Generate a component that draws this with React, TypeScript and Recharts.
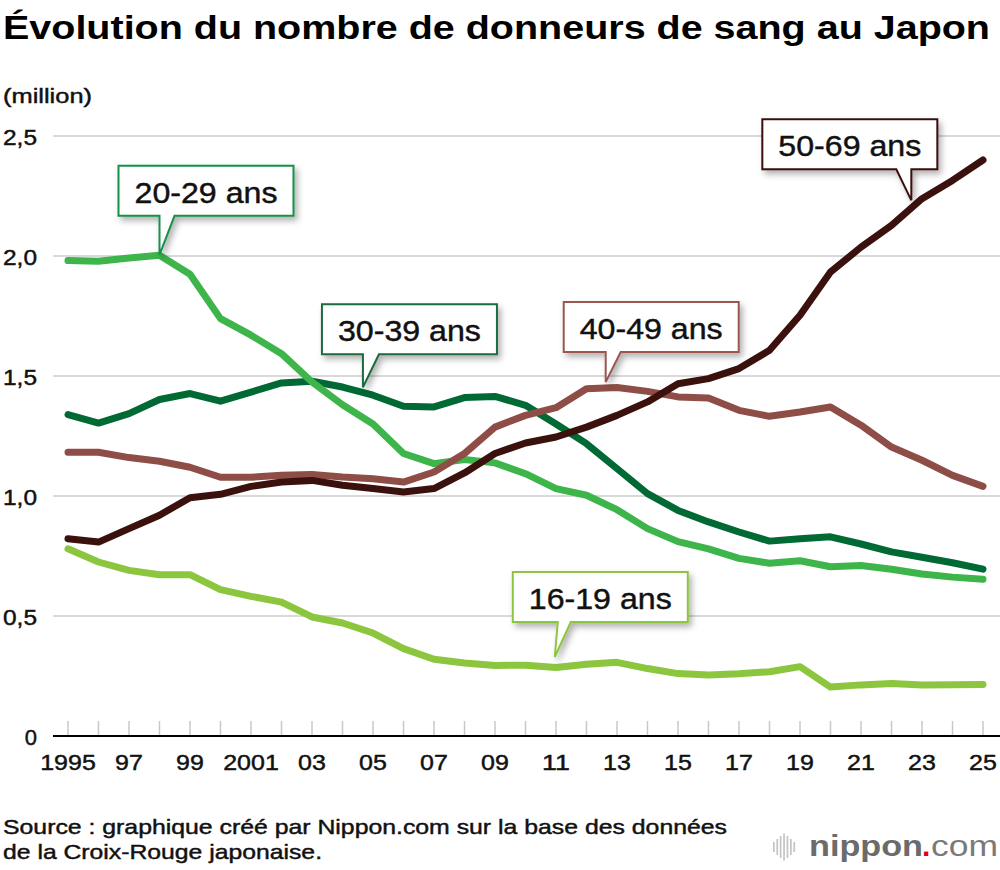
import React from 'react';
import { LineChart, Line, XAxis, YAxis, CartesianGrid, ReferenceDot } from 'recharts';

// données (millions de donneurs)
const years = [
  1995, 1996, 1997, 1998, 1999, 2000, 2001, 2002, 2003, 2004, 2005,
  2006, 2007, 2008, 2009, 2010, 2011, 2012, 2013, 2014, 2015, 2016,
  2017, 2018, 2019, 2020, 2021, 2022, 2023, 2024, 2025,
];

const age16to19 = [
  0.78, 0.725, 0.69, 0.672, 0.672, 0.61, 0.582, 0.558, 0.496, 0.471, 0.429,
  0.364, 0.32, 0.304, 0.294, 0.295, 0.285, 0.299, 0.307, 0.281, 0.26, 0.254,
  0.259, 0.268, 0.289, 0.204, 0.213, 0.219, 0.213, 0.214, 0.215,
];
const age20to29 = [
  1.981, 1.978, 1.992, 2.003, 1.924, 1.739, 1.67, 1.593, 1.475, 1.38, 1.3,
  1.177, 1.135, 1.152, 1.138, 1.093, 1.031, 1.003, 0.943, 0.864, 0.81, 0.78,
  0.74, 0.72, 0.73, 0.705, 0.71, 0.695, 0.675, 0.662, 0.653,
];
const age30to39 = [
  1.339, 1.304, 1.343, 1.402, 1.427, 1.395, 1.433, 1.471, 1.478, 1.454, 1.42,
  1.374, 1.371, 1.41, 1.415, 1.378, 1.3, 1.218, 1.114, 1.01, 0.94, 0.892,
  0.85, 0.812, 0.822, 0.83, 0.8, 0.767, 0.745, 0.722, 0.695,
];
const age40to49 = [
  1.182, 1.182, 1.16, 1.145, 1.12, 1.078, 1.078, 1.086, 1.09, 1.079, 1.072,
  1.058, 1.1, 1.177, 1.287, 1.336, 1.368, 1.447, 1.452, 1.436, 1.413, 1.408,
  1.357, 1.332, 1.35, 1.371, 1.295, 1.204, 1.149, 1.086, 1.04,
];
const age50to69 = [
  0.822, 0.808, 0.864, 0.92, 0.993, 1.007, 1.04, 1.058, 1.065, 1.045, 1.031,
  1.017, 1.031, 1.096, 1.177, 1.221, 1.246, 1.287, 1.336, 1.392, 1.468, 1.489,
  1.531, 1.607, 1.753, 1.933, 2.037, 2.128, 2.239, 2.315, 2.4,
];

const yTicks = [0, 0.5, 1, 1.5, 2, 2.5];

const data = years.map((year, i) => ({
  year,
  a16: age16to19[i],
  a20: age20to29[i],
  a30: age30to39[i],
  a40: age40to49[i],
  a50: age50to69[i],
}));

const FONT = '"Liberation Sans", Arial, Helvetica, sans-serif';
// un léger contour pour épaissir le texte (la police d'origine est plus grasse)
const heavier = { stroke: '#111', strokeWidth: 0.45, paintOrder: 'stroke' as const };

// bulles : point visé (année, valeur) + forme de la boîte autour de la pointe
const callouts = [
  { label: '20-29 ans', x: 1998, y: 2.005, border: '#17914a', boxLeft: -41, boxTop: -89, base: [0, 15] },
  { label: '30-39 ans', x: 2004.67, y: 1.453, border: '#1b6a3c', boxLeft: -41, boxTop: -83, base: [0, 16] },
  { label: '40-49 ans', x: 2012.63, y: 1.475, border: '#9a5750', boxLeft: -42, boxTop: -80, base: [0, 15] },
  { label: '50-69 ans', x: 2022.65, y: 2.232, border: '#3a110d', boxLeft: -149, boxTop: -81, base: [-15, 0] },
  { label: '16-19 ans', x: 2010.96, y: 0.329, border: '#8cc63f', boxLeft: -42, boxTop: -85, base: [3, 16] },
];

function calloutShape(c: any) {
  return (props: any) => {
    const { cx, cy } = props;
    const left = cx + c.boxLeft;
    const top = cy + c.boxTop;
    const right = left + 175;
    const bottom = top + 50;
    const b0 = cx + c.base[0];
    const b1 = cx + c.base[1];
    const d = `M${left},${top} H${right} V${bottom} H${b1} L${cx},${cy} L${b0},${bottom} H${left} Z`;
    return (
      <g>
        <path d={d} fill="#fff" stroke={c.border} strokeWidth={2} filter="url(#calloutShadow)" />
        <text
          x={(left + right) / 2}
          y={top + 37}
          textAnchor="middle"
          fontFamily={FONT}
          fontSize={30}
          fill="#111"
          textLength={143}
          lengthAdjust="spacingAndGlyphs"
          {...heavier}
        >
          {c.label}
        </text>
      </g>
    );
  };
}

const XTick = (props: any) => {
  const { x, y, payload } = props;
  const v = payload.value as number;
  const showLabel = v % 2 === 1;
  const label = v === 1995 || v === 2001 ? String(v) : String(v).slice(2);
  return (
    <g>
      <line x1={x} x2={x} y1={y - 15} y2={y - 1} stroke="#c8c8c8" strokeWidth={1.5} />
      {showLabel && (
        <text
          x={x}
          y={y + 34}
          textAnchor="middle"
          fontFamily={FONT}
          fontSize={22}
          fill="#111"
          textLength={label.length * 13.9}
          lengthAdjust="spacingAndGlyphs"
          {...heavier}
        >
          {label}
        </text>
      )}
    </g>
  );
};

const YTick = (props: any) => {
  const { x, y, payload } = props;
  const v = payload.value as number;
  const label = v === 0 ? '0' : v.toFixed(1).replace('.', ',');
  return (
    <text
      x={x - 16}
      y={y + 9}
      textAnchor="end"
      fontFamily={FONT}
      fontSize={22}
      fill="#111"
      textLength={label.length > 1 ? 34 : undefined}
      lengthAdjust="spacingAndGlyphs"
      {...heavier}
    >
      {label}
    </text>
  );
};

const logoBars = [10, 16, 22, 27, 22, 16, 10];

export default function App() {
  return (
    <div style={{ position: 'absolute', left: 0, top: 0, width: 1000, height: 870, background: '#fff' }}>
      <svg width={0} height={0} style={{ position: 'absolute' }}>
        <defs>
          <filter id="calloutShadow" x="-20%" y="-20%" width="150%" height="160%">
            <feDropShadow dx={3} dy={4} stdDeviation={3} floodColor="#000" floodOpacity={0.3} />
          </filter>
        </defs>
      </svg>

      <LineChart width={1000} height={870} data={data} margin={{ top: 136, right: 0, bottom: 94, left: 8 }}>
        <CartesianGrid vertical={false} stroke="#cccccc" strokeWidth={1.5} />
        <XAxis
          dataKey="year"
          type="number"
          domain={[1995, 2025]}
          ticks={years}
          interval={0}
          padding={{ left: 15, right: 17 }}
          height={40}
          tickSize={0}
          tickMargin={0}
          tickLine={false}
          axisLine={{ stroke: '#000', strokeWidth: 2 }}
          tick={(p: any) => <XTick {...p} />}
        />
        <YAxis
          type="number"
          domain={[0, 2.5]}
          ticks={yTicks}
          width={45}
          tickSize={0}
          tickMargin={0}
          axisLine={false}
          tickLine={false}
          tick={(p: any) => <YTick {...p} />}
        />
        <Line dataKey="a30" stroke="#006934" strokeWidth={7} dot={false} strokeLinecap="round" strokeLinejoin="round" isAnimationActive={false} />
        <Line dataKey="a20" stroke="#3db54a" strokeWidth={7} dot={false} strokeLinecap="round" strokeLinejoin="round" isAnimationActive={false} />
        <Line dataKey="a16" stroke="#8cc63f" strokeWidth={7} dot={false} strokeLinecap="round" strokeLinejoin="round" isAnimationActive={false} />
        <Line dataKey="a40" stroke="#8e4e47" strokeWidth={7} dot={false} strokeLinecap="round" strokeLinejoin="round" isAnimationActive={false} />
        <Line dataKey="a50" stroke="#3a110d" strokeWidth={7} dot={false} strokeLinecap="round" strokeLinejoin="round" isAnimationActive={false} />
        {callouts.map((c) => (
          <ReferenceDot key={c.label} x={c.x} y={c.y} r={0} shape={calloutShape(c)} />
        ))}
      </LineChart>

      <svg width={1000} height={870} style={{ position: 'absolute', left: 0, top: 0, pointerEvents: 'none' }}>
        <text x={3} y={39} fontFamily={FONT} fontWeight="bold" fontSize={34} fill="#000" textLength={987} lengthAdjust="spacingAndGlyphs">
          Évolution du nombre de donneurs de sang au Japon
        </text>
        <text x={3} y={103} fontFamily={FONT} fontSize={21} fill="#111" textLength={89} lengthAdjust="spacingAndGlyphs" {...heavier}>
          (million)
        </text>
        <text x={3} y={834} fontFamily={FONT} fontSize={21} fill="#111" textLength={724} lengthAdjust="spacingAndGlyphs" {...heavier}>
          Source : graphique créé par Nippon.com sur la base des données
        </text>
        <text x={3} y={859} fontFamily={FONT} fontSize={21} fill="#111" textLength={319} lengthAdjust="spacingAndGlyphs" {...heavier}>
          de la Croix-Rouge japonaise.
        </text>
        {logoBars.map((h, i) => (
          <rect key={i} x={773 + i * 3.4} y={847 - h / 2} width={1.7} height={h} fill="#c4c4c4" />
        ))}
        <text x={809} y={856} fontFamily={FONT} fontWeight="bold" fontSize={30} fill="#6b6b6b" textLength={114} lengthAdjust="spacingAndGlyphs">
          nippon
        </text>
        <text x={922} y={856} fontFamily={FONT} fontWeight="bold" fontSize={30} fill="#e60012">
          .
        </text>
        <text x={931} y={856} fontFamily={FONT} fontSize={30} fill="#7a7a7a" textLength={67} lengthAdjust="spacingAndGlyphs">
          com
        </text>
      </svg>
    </div>
  );
}
